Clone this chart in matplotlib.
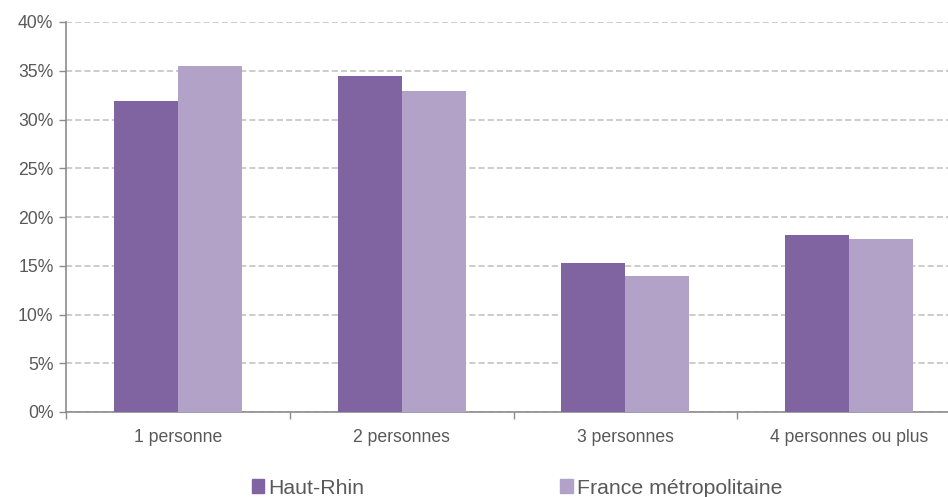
import numpy as np
import matplotlib.pyplot as plt
from matplotlib.patches import Patch
from matplotlib.ticker import PercentFormatter

plt.rcParams['font.family'] = ['Liberation Sans', 'DejaVu Sans']

categories = ["1 personne", "2 personnes", "3 personnes", "4 personnes ou plus"]
haut_rhin = [31.9, 34.45, 15.3, 18.2]
france = [35.5, 32.9, 13.9, 17.7]
series_names = ["Haut-Rhin", "France métropolitaine"]

dark = "#8064A2"
light = "#B3A2C7"
text_col = "#595959"
axis_col = "#8c8c8c"

fig = plt.figure(figsize=(9.48, 4.97), dpi=100)
ax = fig.add_axes([66 / 948, 85 / 497, (961 - 66) / 948, 390 / 497])

x = np.arange(len(categories))
w = 0.286
ax.bar(x - w / 2, haut_rhin, w, color=dark, zorder=3)
ax.bar(x + w / 2, france, w, color=light, zorder=3)

ax.set_xlim(-0.5, len(categories) - 0.5)
ax.set_ylim(0, 40)
ax.set_yticks(np.arange(0, 41, 5))
ax.yaxis.set_major_formatter(PercentFormatter(decimals=0))
ax.yaxis.grid(True, linestyle=(0, (4, 2)), color="#bfbfbf", linewidth=1.1, zorder=0)

ax.set_xticks(x)
ax.set_xticklabels(categories)
ax.set_xticks(np.arange(-0.5, len(categories), 1), minor=True)
ax.tick_params(axis="x", which="major", length=0, pad=12, labelsize=12.7, labelcolor=text_col)
ax.tick_params(axis="x", which="minor", length=5, color=axis_col, width=1)
ax.tick_params(axis="y", length=5, color=axis_col, width=1, pad=4, labelsize=12.7, labelcolor=text_col)

for s in ["top", "right"]:
    ax.spines[s].set_visible(False)
for s in ["left", "bottom"]:
    ax.spines[s].set_color(axis_col)
    ax.spines[s].set_linewidth(1.2)

# legend sits below the axis, two entries far apart
handles = [Patch(color=dark), Patch(color=light)]
fig.legend(handles, series_names, loc="center", bbox_to_anchor=(517 / 948, 9 / 497),
           ncol=2, frameon=False, fontsize=15.3, handlelength=0.6, handleheight=0.6,
           handletextpad=0.2, columnspacing=9.2, labelcolor=text_col)

fig.savefig("out.png", dpi=100)
